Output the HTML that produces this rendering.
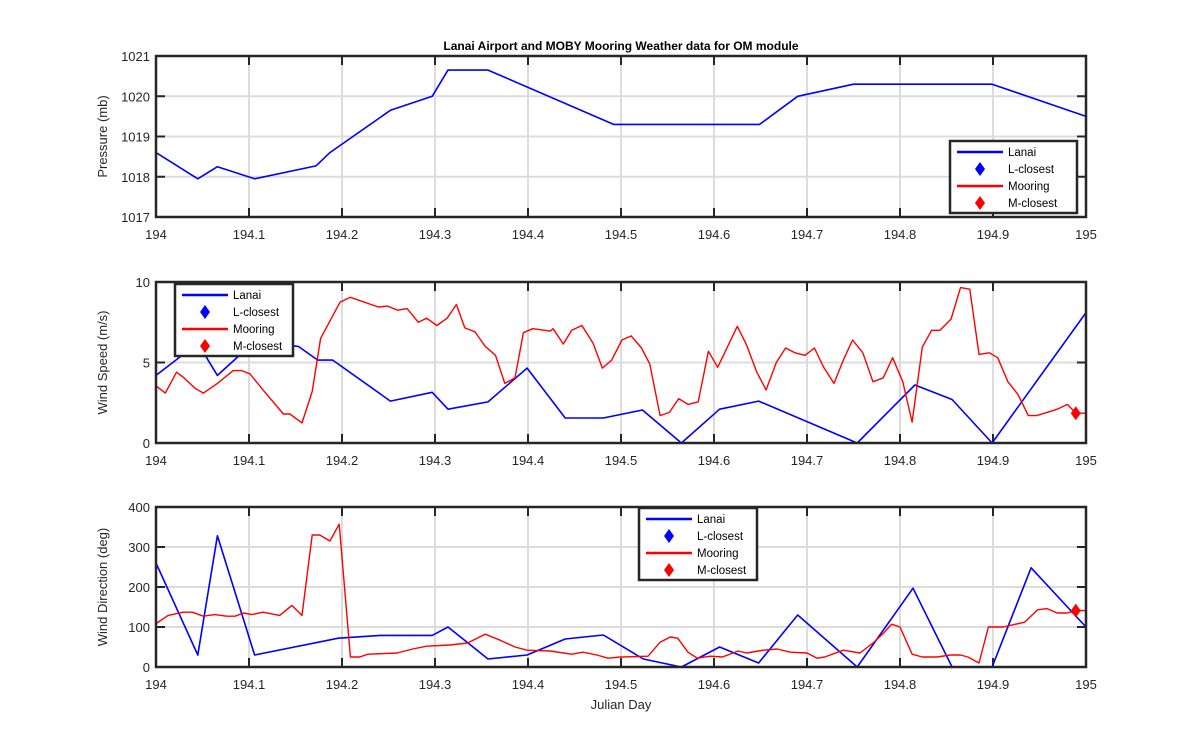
<!DOCTYPE html>
<html><head><meta charset="utf-8"><style>
body{margin:0;background:#fff;}
svg{display:block;font-family:"Liberation Sans",Arial,sans-serif;}
</style></head><body>
<svg id="c" width="1200" height="750"></svg>
<script>
// Panel 1: pressure
const presDays=[194,194.045,194.066,194.106,194.172,194.187,194.252,194.297,194.314,194.357,194.492,194.649,194.69,194.75,194.899,195];
const presLanai=[1018.6,1017.95,1018.25,1017.95,1018.27,1018.6,1019.65,1020.0,1020.65,1020.65,1019.3,1019.3,1020.0,1020.3,1020.3,1019.5];
// Panel 2: wind speed
const wsLanaiDays=[194,194.045,194.066,194.106,194.153,194.174,194.19,194.252,194.297,194.314,194.357,194.399,194.44,194.481,194.523,194.565,194.606,194.648,194.754,194.816,194.856,194.899,195];
const wsLanai=[4.2,6.2,4.2,6.3,6.0,5.15,5.15,2.6,3.15,2.1,2.55,4.65,1.55,1.55,2.05,0,2.1,2.6,0,3.6,2.7,0,8.1];
const wsMoorDays=[194.001,194.01,194.022,194.029,194.042,194.051,194.066,194.083,194.092,194.101,194.115,194.137,194.144,194.157,194.168,194.177,194.198,194.209,194.239,194.249,194.26,194.27,194.282,194.291,194.302,194.313,194.323,194.332,194.343,194.354,194.365,194.375,194.386,194.395,194.405,194.424,194.427,194.438,194.447,194.458,194.47,194.48,194.49,194.501,194.511,194.522,194.531,194.542,194.552,194.562,194.572,194.583,194.594,194.604,194.625,194.635,194.646,194.656,194.667,194.677,194.687,194.698,194.708,194.718,194.729,194.739,194.749,194.76,194.771,194.782,194.792,194.803,194.813,194.824,194.834,194.843,194.855,194.865,194.875,194.885,194.896,194.905,194.916,194.927,194.938,194.947,194.958,194.969,194.98,194.989,195];
const wsMoor=[3.5,3.1,4.4,4.1,3.4,3.1,3.7,4.5,4.5,4.3,3.3,1.8,1.8,1.25,3.2,6.5,8.75,9.05,8.45,8.5,8.25,8.35,7.5,7.75,7.3,7.75,8.6,7.15,6.9,6.0,5.45,3.7,4.05,6.85,7.1,6.95,7.1,6.15,7.0,7.3,6.2,4.65,5.15,6.4,6.65,5.9,4.9,1.7,1.9,2.75,2.4,2.55,5.7,4.7,7.25,6.1,4.4,3.3,5.0,5.9,5.6,5.45,5.9,4.7,3.7,5.15,6.4,5.6,3.8,4.05,5.3,3.8,1.3,5.95,7.0,7.0,7.7,9.65,9.55,5.5,5.6,5.3,3.8,3.0,1.7,1.7,1.9,2.1,2.4,1.85,1.85];
const wsMClosest=[194.989,1.85];
// Panel 3: wind direction
const wdLanaiDays=[194,194.045,194.066,194.106,194.196,194.241,194.297,194.314,194.357,194.399,194.44,194.481,194.524,194.565,194.606,194.648,194.69,194.754,194.814,194.856,194.899,194.941,195];
const wdLanai=[260,30,328,30,72,79,79,100,20,30,70,80,20,0,50,10,130,0,197,0,0,248,100];
const wdMoorDays=[194.001,194.013,194.029,194.039,194.051,194.063,194.076,194.085,194.094,194.103,194.115,194.133,194.146,194.157,194.168,194.176,194.187,194.197,194.209,194.219,194.228,194.259,194.276,194.291,194.316,194.335,194.354,194.37,194.386,194.399,194.424,194.447,194.459,194.474,194.486,194.499,194.502,194.529,194.542,194.553,194.561,194.572,194.582,194.596,194.609,194.626,194.635,194.653,194.668,194.682,194.7,194.711,194.719,194.739,194.757,194.771,194.782,194.791,194.8,194.813,194.824,194.84,194.854,194.865,194.873,194.885,194.895,194.911,194.934,194.948,194.958,194.969,194.98,194.989,195];
const wdMoor=[110,129,137,137,127,131,127,127,135,131,137,129,154,129,330,330,315,357,25,25,32,35,45,52,55,60,82,67,50,42,40,32,37,30,22,25,25,27,62,75,72,37,22,27,25,40,35,42,45,37,35,22,25,42,35,60,84,107,100,32,25,25,30,30,25,10,100,100,112,143,146,135,135,141,141];
const wdMClosest=[194.989,141];
const xTicks=[194,194.1,194.2,194.3,194.4,194.5,194.6,194.7,194.8,194.9,195];

const svg=document.getElementById('c');
const NS='http://www.w3.org/2000/svg';
function mk(tag,at,parent){const e=document.createElementNS(NS,tag);for(const k in at)e.setAttribute(k,at[k]);(parent||svg).appendChild(e);return e;}
const L=156,R=1086;
const xs=d=>L+(d-194)/(1)*(R-L);

function panel(name,top,bot,ymin,ymax,yt,ylabel){
  const g=mk('g',{});
  
  
  const ys=v=>bot-(v-ymin)/(ymax-ymin)*(bot-top);
  mk('rect',{x:L,y:top,width:R-L,height:bot-top,fill:'#fff'},g);
  xTicks.forEach(t=>{
    const x=xs(t);
    const gl=mk('line',{x1:x,x2:x,y1:top,y2:bot,stroke:'#dcdcdc','stroke-width':2},g);
    
    
    const tl=mk('text',{x:x,y:bot+22,'text-anchor':'middle','font-size':13,fill:'#262626'},g);
    tl.textContent=String(t);
    
    
  });
  yt.forEach(t=>{
    const y=ys(t);
    mk('line',{x1:L,x2:R,y1:y,y2:y,stroke:'#dcdcdc','stroke-width':2},g);
    const tl=mk('text',{x:L-6,y:y+5,'text-anchor':'end','font-size':13,fill:'#262626'},g);
    tl.textContent=String(t);
    
    
    mk('line',{x1:L,x2:L+9,y1:y,y2:y,stroke:'#262626','stroke-width':2},g);
    mk('line',{x1:R,x2:R-9,y1:y,y2:y,stroke:'#262626','stroke-width':2},g);
  });
  xTicks.forEach(t=>{const x=xs(t);
    mk('line',{x1:x,x2:x,y1:bot,y2:bot-9,stroke:'#262626','stroke-width':2},g);
    mk('line',{x1:x,x2:x,y1:top,y2:top+9,stroke:'#262626','stroke-width':2},g);});
  const yl=mk('text',{x:0,y:0,'text-anchor':'middle','font-size':13,fill:'#262626',transform:`translate(107,${(top+bot)/2}) rotate(-90)`},g);
  yl.textContent=ylabel;
  
  
  return {g,ys,top,bot};
}
function series(p,days,vals,color,w,name){
  const pts=days.map((d,i)=>xs(d).toFixed(1)+','+p.ys(vals[i]).toFixed(1)).join(' ');
  const e=mk('polyline',{points:pts,fill:'none',stroke:color,'stroke-width':w,'stroke-linejoin':'round'},p.g);
  
  
}
function diamond(cx,cy,color,parent,name){
  const e=mk('polygon',{points:`${cx},${cy-7} ${cx+5},${cy} ${cx},${cy+7} ${cx-5},${cy}`,fill:color},parent);
  
  
}
function frame(p){mk('rect',{x:L,y:p.top,width:R-L,height:p.bot-p.top,fill:'none',stroke:'#262626','stroke-width':2.5},p.g);}
function legend(p,x,y,w,name){
  const g=mk('g',{},p.g);
  
  
  mk('rect',{x:x,y:y,width:w,height:72,fill:'#fff',stroke:'#262626','stroke-width':2.5},g);
  const items=[['Lanai','#0000ff','line'],['L-closest','#0000ff','dia'],['Mooring','#ff0000','line'],['M-closest','#ff0000','dia']];
  items.forEach((it,i)=>{
    const cy=y+11+i*17;
    if(it[2]==='line'){const l=mk('line',{x1:x+7,x2:x+53,y1:cy,y2:cy,stroke:it[1],'stroke-width':2.5},g);
      
      }
    else diamond(x+30,cy,it[1],g,'legend-marker-'+it[0].toLowerCase());
    const t=mk('text',{x:x+58,y:cy+4,'font-size':11.5,fill:'#000'},g);
    t.textContent=it[0];
    
    
  });
}

const t=mk('text',{x:621,y:50,'text-anchor':'middle','font-size':12,'font-weight':'bold',fill:'#000'});
t.textContent='Lanai Airport and MOBY Mooring Weather data for OM module';



const p1=panel('pressure-panel',56,217,1017,1021,[1017,1018,1019,1020,1021],'Pressure (mb)');
series(p1,presDays,presLanai,'#0000ff',1.6,'pressure-lanai-line');
frame(p1);
legend(p1,950,141,127,'pressure-legend');

const p2=panel('wind-speed-panel',282,443,0,10,[0,5,10],'Wind Speed (m/s)');
series(p2,wsLanaiDays,wsLanai,'#0000ff',1.6,'wind-speed-lanai-line');
series(p2,wsMoorDays,wsMoor,'#ff0000',1.4,'wind-speed-mooring-line');
diamond(xs(wsMClosest[0]),p2.ys(wsMClosest[1]),'#ff0000',p2.g,'wind-speed-m-closest');
frame(p2);
legend(p2,175,284,118,'wind-speed-legend');

const p3=panel('wind-direction-panel',507,667,0,400,[0,100,200,300,400],'Wind Direction (deg)');
series(p3,wdLanaiDays,wdLanai,'#0000ff',1.6,'wind-direction-lanai-line');
series(p3,wdMoorDays,wdMoor,'#ff0000',1.4,'wind-direction-mooring-line');
diamond(xs(wdMClosest[0]),p3.ys(wdMClosest[1]),'#ff0000',p3.g,'wind-direction-m-closest');
frame(p3);
legend(p3,639,508,118,'wind-direction-legend');

const xl=mk('text',{x:621,y:709,'text-anchor':'middle','font-size':13,fill:'#262626'});
xl.textContent='Julian Day';


</script>
</body></html>
